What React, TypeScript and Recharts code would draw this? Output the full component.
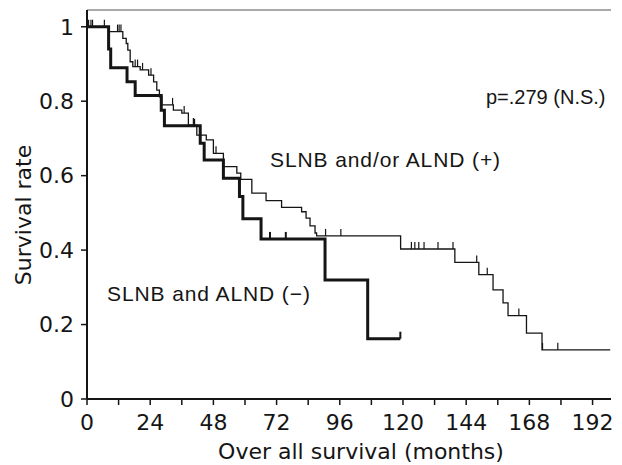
import { ComposedChart, Line, Scatter, XAxis, YAxis, ReferenceLine, Customized } from 'recharts'

const FONT_AXIS = "'DejaVu Sans', sans-serif"
const FONT_NOTE = "'Liberation Sans', Arial, sans-serif"
const INK = '#151515'
const MONTH_MAX = 199
const RATE_MAX = 1.045

// months on the x axis, minor ticks every 12, labels every 24
const MONTH_TICKS = [0, 12, 24, 36, 48, 60, 72, 84, 96, 108, 120, 132, 144, 156, 168, 180, 192]
const RATE_TICKS = [0, 0.2, 0.4, 0.6, 0.8, 1]

// SLNB and/or ALND (+) : thin curve
const POS_TIME = [0, 8.2, 13.6, 14.9, 15.5, 16.4, 17.4, 20.2, 23.4, 25.3, 26.5, 27.5, 28.4, 32.8, 36.0, 38.5, 41.7, 45.3, 48.0, 51.8, 56.9, 58.4, 62.6, 68.0, 73.9, 81.5, 83.2, 84.7, 86.6, 87.2, 119.1, 139.7, 148.8, 154.2, 158.0, 159.9, 166.9, 172.8, 198.7]
const POS_RATE = [1, 0.987, 0.969, 0.955, 0.937, 0.906, 0.893, 0.884, 0.87, 0.852, 0.83, 0.812, 0.79, 0.776, 0.768, 0.736, 0.709, 0.696, 0.66, 0.624, 0.607, 0.59, 0.553, 0.533, 0.515, 0.503, 0.486, 0.465, 0.446, 0.438, 0.403, 0.367, 0.334, 0.293, 0.258, 0.224, 0.177, 0.132, 0.132]
const POS_CENSOR_TIME = [0.6, 1.5, 2.1, 6.6, 11.6, 12.2, 12.9, 18.3, 19.2, 21.1, 24.3, 32.5, 36.9, 40.4, 49.0, 90.6, 96.4, 123.2, 124.5, 126.0, 128.0, 133.3, 139.0, 148.0, 152.0, 164.0, 173.0, 178.8]
const POS_CENSOR_RATE = [1, 1, 1, 1, 0.987, 0.987, 0.987, 0.893, 0.893, 0.884, 0.87, 0.79, 0.768, 0.736, 0.66, 0.438, 0.438, 0.403, 0.403, 0.403, 0.403, 0.403, 0.403, 0.367, 0.334, 0.224, 0.132, 0.132]

// SLNB and ALND (-) : thick curve
const NEG_TIME = [0, 8.2, 9.0, 15.2, 18.3, 28.2, 29.4, 43.0, 44.5, 51.8, 57.9, 59.2, 66.1, 90.4, 106.6, 119.0]
const NEG_RATE = [1, 0.94, 0.89, 0.852, 0.815, 0.776, 0.734, 0.687, 0.642, 0.593, 0.544, 0.484, 0.43, 0.32, 0.162, 0.162]
const NEG_CENSOR_TIME = [40.7, 69.5, 75.5, 119.0]
const NEG_CENSOR_RATE = [0.734, 0.43, 0.43, 0.162]

const zip = (t: number[], s: number[]) => t.map((v, i) => ({ t: v, s: s[i] }))

const posCurve = zip(POS_TIME, POS_RATE)
const negCurve = zip(NEG_TIME, NEG_RATE)
const posCensor = zip(POS_CENSOR_TIME, POS_CENSOR_RATE)
const negCensor = zip(NEG_CENSOR_TIME, NEG_CENSOR_RATE)

const censorTick = (width: number) => (props: any) => (
  <line x1={props.cx} x2={props.cx} y1={props.cy} y2={props.cy - 7} stroke={INK} strokeWidth={width} />
)

function Notes() {
  return (
    <g fill={INK}>
      <text x={486} y={104} fontSize={20} fontFamily={FONT_NOTE}>p=.279 (N.S.)</text>
      <text x={270} y={167} fontSize={21} fontFamily={FONT_NOTE} letterSpacing={0.9}>SLNB and/or ALND (+)</text>
      <text x={107} y={301} fontSize={21} fontFamily={FONT_NOTE} letterSpacing={0.9}>SLNB and ALND (−)</text>
      <text x={361} y={459} fontSize={22} fontFamily={FONT_AXIS} textAnchor="middle">Over all survival (months)</text>
      <text x={0} y={0} fontSize={22} fontFamily={FONT_AXIS} textAnchor="middle"
        transform="translate(31,215) rotate(-90)">Survival rate</text>
    </g>
  )
}

const tickStyle = { fontSize: 22, fontFamily: FONT_AXIS, fill: INK }

export default function App() {
  return (
    <div style={{ position: 'absolute', left: 0, top: 0, background: '#fff' }}>
      <ComposedChart width={622} height={465} margin={{ top: 10, right: 11, bottom: 0, left: 0 }}>
        <XAxis
          dataKey="t"
          type="number"
          domain={[0, MONTH_MAX]}
          ticks={MONTH_TICKS}
          interval={0}
          allowDataOverflow
          tickFormatter={(v: number) => (v % 24 === 0 ? String(v) : '')}
          tick={tickStyle}
          tickSize={6}
          tickMargin={9}
          height={66}
          axisLine={{ stroke: INK, strokeWidth: 2 }}
          tickLine={{ stroke: INK, strokeWidth: 1.5 }}
        />
        <YAxis
          dataKey="s"
          type="number"
          domain={[0, RATE_MAX]}
          ticks={RATE_TICKS}
          interval={0}
          allowDataOverflow
          tickFormatter={(v: number) => (v === 0 || v === 1 ? String(v) : v.toFixed(1))}
          tick={tickStyle}
          tickSize={6}
          tickMargin={7}
          width={87}
          axisLine={{ stroke: INK, strokeWidth: 2 }}
          tickLine={{ stroke: INK, strokeWidth: 1.5 }}
        />
        <YAxis yAxisId="right" orientation="right" type="number" domain={[0, RATE_MAX]} width={0}
          tick={false} tickLine={false} axisLine={{ stroke: '#555', strokeWidth: 1 }} />
        {/* top edge of the frame */}
        <ReferenceLine y={RATE_MAX} stroke="#555" strokeWidth={1} ifOverflow="extendDomain" />
        <Line data={posCurve} dataKey="s" type="stepAfter" stroke={INK} strokeWidth={1.3}
          dot={false} isAnimationActive={false} />
        <Line data={negCurve} dataKey="s" type="stepAfter" stroke={INK} strokeWidth={3}
          dot={false} isAnimationActive={false} />
        <Scatter data={posCensor} dataKey="s" shape={censorTick(1.2)} isAnimationActive={false} />
        <Scatter data={negCensor} dataKey="s" shape={censorTick(2)} isAnimationActive={false} />
        <Customized component={Notes} />
      </ComposedChart>
    </div>
  )
}
